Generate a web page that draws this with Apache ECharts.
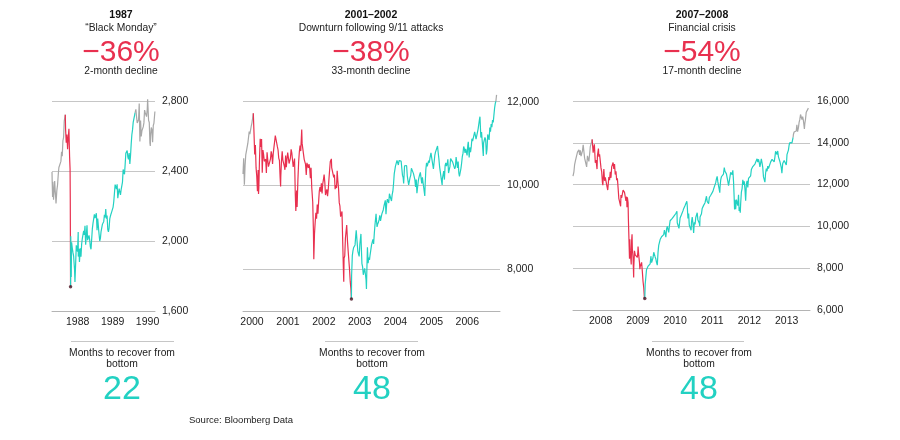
<!DOCTYPE html>
<html>
<head>
<meta charset="utf-8">
<title>Dow Jones: three crashes and their recoveries</title>
<script src="https://cdn.jsdelivr.net/npm/echarts@6.0.0/dist/echarts.min.js"></script>
<style>
  html, body { margin: 0; padding: 0; background: #fff; }
  #chart { width: 900px; height: 440px; }
</style>
</head>
<body>
<div id="chart"></div>
<script>
// Dow Jones Industrial Average, roughly weekly closes
const dow1987 = [
  ['1987-04-08', 2395], ['1987-04-10', 2339], ['1987-04-14', 2252], ['1987-04-17', 2338], ['1987-04-22', 2270],
  ['1987-04-24', 2236], ['1987-04-30', 2286], ['1987-05-06', 2342], ['1987-05-11', 2290], ['1987-05-15', 2263],
  ['1987-05-20', 2215], ['1987-05-29', 2291], ['1987-06-05', 2320], ['1987-06-12', 2377], ['1987-06-19', 2420],
  ['1987-06-26', 2417], ['1987-07-02', 2418], ['1987-07-10', 2455], ['1987-07-17', 2510], ['1987-07-24', 2485],
  ['1987-07-31', 2572], ['1987-08-07', 2592], ['1987-08-14', 2685], ['1987-08-21', 2709], ['1987-08-25', 2722],
  ['1987-08-28', 2639], ['1987-09-04', 2561], ['1987-09-11', 2608], ['1987-09-18', 2524], ['1987-09-22', 2568],
  ['1987-09-25', 2570], ['1987-10-02', 2641], ['1987-10-09', 2482], ['1987-10-14', 2412], ['1987-10-16', 2246],
  ['1987-10-19', 1739], ['1987-10-20', 1841], ['1987-10-21', 2027], ['1987-10-26', 1794], ['1987-10-30', 1993],
  ['1987-11-06', 1959], ['1987-11-13', 1935], ['1987-11-20', 1914], ['1987-11-30', 1834], ['1987-12-04', 1766],
  ['1987-12-11', 1867], ['1987-12-18', 1975], ['1987-12-31', 1939],
  ['1988-01-07', 2051], ['1988-01-08', 1911], ['1988-01-15', 1956], ['1988-01-20', 1880], ['1988-01-29', 1958],
  ['1988-02-05', 1910], ['1988-02-12', 1983], ['1988-02-19', 2014], ['1988-02-26', 2023], ['1988-03-04', 2058],
  ['1988-03-11', 2035], ['1988-03-18', 2087], ['1988-03-25', 1979], ['1988-04-01', 1988], ['1988-04-08', 2090],
  ['1988-04-14', 2005], ['1988-04-22', 2015], ['1988-04-29', 2032], ['1988-05-06', 2007], ['1988-05-13', 1967],
  ['1988-05-20', 1953], ['1988-05-27', 1956], ['1988-06-03', 2071], ['1988-06-10', 2102], ['1988-06-17', 2103],
  ['1988-06-24', 2152], ['1988-07-01', 2131], ['1988-07-08', 2120], ['1988-07-15', 2159], ['1988-07-22', 2061],
  ['1988-07-29', 2128], ['1988-08-05', 2119], ['1988-08-12', 2039], ['1988-08-19', 2000], ['1988-08-26', 2015],
  ['1988-09-02', 2054], ['1988-09-09', 2065], ['1988-09-16', 2095], ['1988-09-23', 2088], ['1988-09-30', 2112],
  ['1988-10-07', 2149], ['1988-10-14', 2134], ['1988-10-21', 2183], ['1988-10-28', 2128], ['1988-11-04', 2145],
  ['1988-11-11', 2067], ['1988-11-18', 2052], ['1988-11-25', 2074], ['1988-12-02', 2126], ['1988-12-09', 2143],
  ['1988-12-16', 2156], ['1988-12-23', 2168], ['1988-12-30', 2169],
  ['1989-01-06', 2194], ['1989-01-13', 2226], ['1989-01-20', 2236], ['1989-01-27', 2322], ['1989-02-03', 2331],
  ['1989-02-10', 2297], ['1989-02-17', 2324], ['1989-02-24', 2245], ['1989-03-03', 2274], ['1989-03-10', 2300],
  ['1989-03-17', 2292], ['1989-03-24', 2263], ['1989-03-31', 2293], ['1989-04-07', 2304], ['1989-04-14', 2337],
  ['1989-04-21', 2409], ['1989-04-28', 2419], ['1989-05-05', 2381], ['1989-05-12', 2439], ['1989-05-19', 2501],
  ['1989-05-26', 2493], ['1989-06-02', 2517], ['1989-06-09', 2480], ['1989-06-16', 2467], ['1989-06-23', 2503],
  ['1989-06-30', 2440], ['1989-07-07', 2487], ['1989-07-14', 2554], ['1989-07-21', 2607], ['1989-07-28', 2635],
  ['1989-08-04', 2678], ['1989-08-11', 2684], ['1989-08-18', 2687], ['1989-08-24', 2734], ['1989-09-01', 2752],
  ['1989-09-08', 2709], ['1989-09-15', 2674], ['1989-09-22', 2681], ['1989-09-29', 2693], ['1989-10-06', 2785],
  ['1989-10-09', 2791], ['1989-10-13', 2569], ['1989-10-20', 2689], ['1989-10-27', 2597], ['1989-11-03', 2629],
  ['1989-11-10', 2625], ['1989-11-17', 2652], ['1989-11-24', 2675], ['1989-12-01', 2748], ['1989-12-08', 2733],
  ['1989-12-15', 2739], ['1989-12-22', 2711], ['1989-12-29', 2753],
  ['1990-01-02', 2810], ['1990-01-05', 2773], ['1990-01-12', 2689], ['1990-01-19', 2677], ['1990-01-26', 2559],
  ['1990-01-30', 2543], ['1990-02-02', 2602], ['1990-02-09', 2649], ['1990-02-16', 2636], ['1990-02-23', 2564],
  ['1990-03-02', 2660], ['1990-03-09', 2674], ['1990-03-19', 2740]
]

const dow2000 = [
  ['1999-10-01', 10273], ['1999-10-08', 10649], ['1999-10-15', 10019], ['1999-10-22', 10470], ['1999-10-29', 10729],
  ['1999-11-05', 10704], ['1999-11-12', 10770], ['1999-11-19', 11003], ['1999-11-26', 10988], ['1999-12-03', 11286],
  ['1999-12-10', 11224], ['1999-12-17', 11257], ['1999-12-23', 11405], ['1999-12-31', 11497],
  ['2000-01-07', 11522], ['2000-01-14', 11723], ['2000-01-21', 11252], ['2000-01-28', 10739], ['2000-02-04', 10964],
  ['2000-02-11', 10425], ['2000-02-18', 10220], ['2000-02-25', 9862], ['2000-03-03', 10367], ['2000-03-07', 9796],
  ['2000-03-10', 9929], ['2000-03-17', 10630], ['2000-03-24', 11113], ['2000-03-31', 10922], ['2000-04-07', 11111],
  ['2000-04-14', 10306], ['2000-04-21', 10844], ['2000-04-28', 10734], ['2000-05-05', 10577], ['2000-05-12', 10610],
  ['2000-05-19', 10627], ['2000-05-26', 10299], ['2000-06-02', 10794], ['2000-06-09', 10614], ['2000-06-16', 10450],
  ['2000-06-23', 10405], ['2000-06-30', 10448], ['2000-07-07', 10636], ['2000-07-14', 10813], ['2000-07-21', 10733],
  ['2000-07-28', 10512], ['2000-08-04', 10767], ['2000-08-11', 10908], ['2000-08-18', 11046], ['2000-08-25', 11193],
  ['2000-09-01', 11238], ['2000-09-08', 11220], ['2000-09-15', 10927], ['2000-09-22', 10847], ['2000-09-29', 10651],
  ['2000-10-06', 10596], ['2000-10-13', 10192], ['2000-10-18', 9975], ['2000-10-20', 10226], ['2000-10-27', 10590],
  ['2000-11-03', 10817], ['2000-11-10', 10602], ['2000-11-17', 10629], ['2000-11-24', 10470], ['2000-12-01', 10373],
  ['2000-12-08', 10713], ['2000-12-15', 10434], ['2000-12-22', 10635], ['2000-12-29', 10787],
  ['2001-01-05', 10662], ['2001-01-12', 10525], ['2001-01-19', 10587], ['2001-01-26', 10659], ['2001-02-02', 10864],
  ['2001-02-09', 10781], ['2001-02-16', 10799], ['2001-02-23', 10441], ['2001-03-02', 10466], ['2001-03-09', 10644],
  ['2001-03-16', 9823], ['2001-03-22', 9389], ['2001-03-30', 9879], ['2001-04-04', 9485], ['2001-04-12', 10127],
  ['2001-04-20', 10579], ['2001-04-27', 10810], ['2001-05-04', 10951], ['2001-05-11', 10821], ['2001-05-21', 11337],
  ['2001-05-25', 11005], ['2001-06-01', 10990], ['2001-06-08', 10977], ['2001-06-15', 10623], ['2001-06-22', 10604],
  ['2001-06-29', 10502], ['2001-07-06', 10252], ['2001-07-13', 10539], ['2001-07-20', 10577], ['2001-07-27', 10417],
  ['2001-08-03', 10512], ['2001-08-10', 10416], ['2001-08-17', 10171], ['2001-08-24', 10423], ['2001-08-31', 9950],
  ['2001-09-10', 9605], ['2001-09-17', 8920], ['2001-09-21', 8236], ['2001-09-28', 8848], ['2001-10-05', 9120],
  ['2001-10-12', 9344], ['2001-10-19', 9205], ['2001-10-26', 9545], ['2001-11-02', 9323], ['2001-11-09', 9608],
  ['2001-11-16', 9866], ['2001-11-23', 9959], ['2001-11-30', 9851], ['2001-12-07', 10049], ['2001-12-14', 9811],
  ['2001-12-21', 10036], ['2001-12-28', 10137],
  ['2002-01-04', 10260], ['2002-01-11', 10075], ['2002-01-18', 9772], ['2002-01-25', 9841], ['2002-02-01', 9907],
  ['2002-02-08', 9744], ['2002-02-15', 9904], ['2002-02-22', 10145], ['2002-03-01', 10369], ['2002-03-08', 10572],
  ['2002-03-19', 10635], ['2002-03-22', 10427], ['2002-03-28', 10404], ['2002-04-05', 10271], ['2002-04-12', 10190],
  ['2002-04-19', 10257], ['2002-04-26', 9910], ['2002-05-03', 10006], ['2002-05-10', 9939], ['2002-05-17', 10353],
  ['2002-05-24', 10105], ['2002-05-31', 9925], ['2002-06-07', 9589], ['2002-06-14', 9504], ['2002-06-21', 9253],
  ['2002-06-28', 9243], ['2002-07-05', 9379], ['2002-07-12', 8684], ['2002-07-19', 8019], ['2002-07-23', 7702],
  ['2002-07-26', 8264], ['2002-08-02', 8313], ['2002-08-09', 8745], ['2002-08-16', 8778], ['2002-08-22', 9053],
  ['2002-08-30', 8663], ['2002-09-06', 8427], ['2002-09-13', 8380], ['2002-09-20', 7986], ['2002-09-27', 7701],
  ['2002-10-04', 7528], ['2002-10-09', 7286], ['2002-10-11', 7850], ['2002-10-18', 8322], ['2002-10-25', 8444],
  ['2002-11-01', 8518], ['2002-11-08', 8538], ['2002-11-15', 8579], ['2002-11-22', 8805], ['2002-11-27', 8931],
  ['2002-12-06', 8645], ['2002-12-13', 8433], ['2002-12-20', 8364], ['2002-12-27', 8304],
  ['2003-01-03', 8601], ['2003-01-14', 8842], ['2003-01-17', 8587], ['2003-01-24', 8131], ['2003-01-31', 8054],
  ['2003-02-07', 7865], ['2003-02-14', 7909], ['2003-02-21', 8018], ['2003-02-28', 7891], ['2003-03-07', 7741],
  ['2003-03-11', 7524], ['2003-03-14', 7859], ['2003-03-21', 8522], ['2003-03-28', 8145], ['2003-04-04', 8277],
  ['2003-04-11', 8221], ['2003-04-17', 8337], ['2003-04-25', 8306], ['2003-05-02', 8582], ['2003-05-09', 8604],
  ['2003-05-16', 8713], ['2003-05-23', 8601], ['2003-05-30', 8850], ['2003-06-06', 9062], ['2003-06-17', 9323],
  ['2003-06-20', 9200], ['2003-06-27', 9011], ['2003-07-03', 9070], ['2003-07-11', 9119], ['2003-07-18', 9188],
  ['2003-07-25', 9284], ['2003-08-01', 9153], ['2003-08-08', 9191], ['2003-08-15', 9321], ['2003-08-22', 9348],
  ['2003-08-29', 9415], ['2003-09-05', 9503], ['2003-09-12', 9471], ['2003-09-19', 9644], ['2003-09-26', 9313],
  ['2003-10-03', 9572], ['2003-10-10', 9674], ['2003-10-17', 9721], ['2003-10-24', 9582], ['2003-10-31', 9801],
  ['2003-11-07', 9809], ['2003-11-14', 9768], ['2003-11-21', 9629], ['2003-11-28', 9782], ['2003-12-05', 9862],
  ['2003-12-12', 10042], ['2003-12-19', 10278], ['2003-12-26', 10305], ['2003-12-31', 10454],
  ['2004-01-09', 10458], ['2004-01-16', 10600], ['2004-01-23', 10568], ['2004-01-30', 10488], ['2004-02-06', 10593],
  ['2004-02-13', 10627], ['2004-02-20', 10620], ['2004-02-27', 10584], ['2004-03-05', 10595], ['2004-03-12', 10240],
  ['2004-03-19', 10186], ['2004-03-24', 10048], ['2004-04-02', 10470], ['2004-04-09', 10442], ['2004-04-16', 10452],
  ['2004-04-23', 10472], ['2004-04-30', 10225], ['2004-05-07', 10117], ['2004-05-14', 10012], ['2004-05-21', 9966],
  ['2004-05-28', 10188], ['2004-06-04', 10242], ['2004-06-11', 10410], ['2004-06-18', 10416], ['2004-06-25', 10371],
  ['2004-07-02', 10282], ['2004-07-09', 10213], ['2004-07-16', 10139], ['2004-07-23', 9962], ['2004-07-30', 10140],
  ['2004-08-06', 9815], ['2004-08-13', 9825], ['2004-08-20', 10110], ['2004-08-27', 10195], ['2004-09-03', 10260],
  ['2004-09-10', 10314], ['2004-09-17', 10284], ['2004-09-24', 10047], ['2004-10-01', 10192], ['2004-10-08', 10055],
  ['2004-10-15', 9933], ['2004-10-25', 9749], ['2004-10-29', 10027], ['2004-11-05', 10387], ['2004-11-12', 10540],
  ['2004-11-19', 10456], ['2004-11-26', 10522], ['2004-12-03', 10592], ['2004-12-10', 10543], ['2004-12-17', 10661],
  ['2004-12-27', 10777], ['2004-12-31', 10783],
  ['2005-01-07', 10603], ['2005-01-14', 10558], ['2005-01-21', 10393], ['2005-01-28', 10427], ['2005-02-04', 10716],
  ['2005-02-11', 10796], ['2005-02-18', 10785], ['2005-02-25', 10766], ['2005-03-04', 10941], ['2005-03-11', 10774],
  ['2005-03-18', 10630], ['2005-03-25', 10442], ['2005-04-01', 10404], ['2005-04-08', 10461], ['2005-04-15', 10087],
  ['2005-04-20', 10012], ['2005-04-22', 10157], ['2005-04-29', 10193], ['2005-05-06', 10345], ['2005-05-13', 10140],
  ['2005-05-20', 10471], ['2005-05-27', 10542], ['2005-06-03', 10460], ['2005-06-10', 10512], ['2005-06-17', 10623],
  ['2005-06-24', 10297], ['2005-07-01', 10303], ['2005-07-08', 10449], ['2005-07-15', 10640], ['2005-07-22', 10651],
  ['2005-07-29', 10641], ['2005-08-05', 10558], ['2005-08-12', 10600], ['2005-08-19', 10559], ['2005-08-26', 10397],
  ['2005-09-02', 10447], ['2005-09-09', 10678], ['2005-09-16', 10641], ['2005-09-23', 10419], ['2005-09-30', 10569],
  ['2005-10-07', 10292], ['2005-10-13', 10216], ['2005-10-21', 10215], ['2005-10-28', 10402], ['2005-11-04', 10530],
  ['2005-11-11', 10686], ['2005-11-18', 10766], ['2005-11-25', 10931], ['2005-12-02', 10877], ['2005-12-09', 10778],
  ['2005-12-16', 10876], ['2005-12-23', 10883], ['2005-12-30', 10718],
  ['2006-01-06', 10959], ['2006-01-11', 11043], ['2006-01-20', 10667], ['2006-01-27', 10908], ['2006-02-03', 10793],
  ['2006-02-10', 10919], ['2006-02-17', 11116], ['2006-02-24', 11061], ['2006-03-03', 11022], ['2006-03-10', 11076],
  ['2006-03-17', 11279], ['2006-03-24', 11280], ['2006-03-31', 11109], ['2006-04-07', 11120], ['2006-04-13', 11137],
  ['2006-04-21', 11347], ['2006-04-28', 11367], ['2006-05-05', 11578], ['2006-05-10', 11642], ['2006-05-19', 11144],
  ['2006-05-26', 11278], ['2006-06-02', 11247], ['2006-06-13', 10706], ['2006-06-16', 11014], ['2006-06-23', 10989],
  ['2006-06-30', 11150], ['2006-07-07', 11090], ['2006-07-14', 10739], ['2006-07-21', 10868], ['2006-07-28', 11219],
  ['2006-08-04', 11240], ['2006-08-11', 11088], ['2006-08-18', 11381], ['2006-08-25', 11284], ['2006-09-01', 11464],
  ['2006-09-08', 11392], ['2006-09-15', 11560], ['2006-09-22', 11508], ['2006-09-29', 11679], ['2006-10-06', 11850],
  ['2006-10-13', 11960], ['2006-10-19', 12011], ['2006-10-26', 12163]
]

const dow2007 = [
  ['2007-04-04', 12400], ['2007-04-13', 12612], ['2007-04-20', 12961], ['2007-04-27', 13120], ['2007-05-04', 13264],
  ['2007-05-11', 13326], ['2007-05-18', 13556], ['2007-05-25', 13507], ['2007-06-01', 13668], ['2007-06-08', 13424],
  ['2007-06-15', 13639], ['2007-06-22', 13360], ['2007-06-29', 13408], ['2007-07-06', 13611], ['2007-07-13', 13907],
  ['2007-07-19', 14000], ['2007-07-27', 13265], ['2007-08-03', 13181], ['2007-08-10', 13239], ['2007-08-16', 12845],
  ['2007-08-24', 13379], ['2007-08-31', 13358], ['2007-09-07', 13113], ['2007-09-14', 13442], ['2007-09-21', 13820],
  ['2007-09-28', 13896], ['2007-10-05', 14066], ['2007-10-09', 14165], ['2007-10-12', 14093], ['2007-10-19', 13522],
  ['2007-10-26', 13806], ['2007-10-31', 13930], ['2007-11-09', 13043], ['2007-11-16', 13176], ['2007-11-26', 12743],
  ['2007-11-30', 13372], ['2007-12-10', 13727], ['2007-12-14', 13339], ['2007-12-21', 13450], ['2007-12-28', 13366],
  ['2008-01-04', 12800], ['2008-01-11', 12606], ['2008-01-18', 12099], ['2008-01-22', 11971], ['2008-01-25', 12207],
  ['2008-02-01', 12743], ['2008-02-08', 12183], ['2008-02-15', 12348], ['2008-02-22', 12381], ['2008-02-29', 12266],
  ['2008-03-10', 11740], ['2008-03-14', 11951], ['2008-03-21', 12361], ['2008-03-28', 12216], ['2008-04-04', 12609],
  ['2008-04-11', 12325], ['2008-04-18', 12849], ['2008-04-25', 12891], ['2008-05-02', 13058], ['2008-05-09', 12745],
  ['2008-05-16', 12986], ['2008-05-23', 12480], ['2008-05-30', 12638], ['2008-06-06', 12209], ['2008-06-13', 12307],
  ['2008-06-20', 11842], ['2008-06-27', 11346], ['2008-07-03', 11288], ['2008-07-15', 10962], ['2008-07-18', 11496],
  ['2008-07-25', 11370], ['2008-08-01', 11326], ['2008-08-08', 11734], ['2008-08-15', 11659], ['2008-08-22', 11628],
  ['2008-08-29', 11543], ['2008-09-05', 11220], ['2008-09-12', 11421], ['2008-09-15', 10917], ['2008-09-19', 11388],
  ['2008-09-26', 11143], ['2008-09-29', 10365], ['2008-10-03', 10325], ['2008-10-10', 8451], ['2008-10-13', 9387],
  ['2008-10-17', 8852], ['2008-10-27', 8175], ['2008-10-31', 9325], ['2008-11-04', 9625], ['2008-11-07', 8943],
  ['2008-11-14', 8497], ['2008-11-20', 7552], ['2008-11-21', 8046], ['2008-11-28', 8829], ['2008-12-05', 8635],
  ['2008-12-12', 8629], ['2008-12-19', 8579], ['2008-12-26', 8515], ['2008-12-31', 8776],
  ['2009-01-02', 9034], ['2009-01-09', 8599], ['2009-01-16', 8281], ['2009-01-20', 7949], ['2009-01-23', 8077],
  ['2009-01-30', 8001], ['2009-02-06', 8280], ['2009-02-13', 7850], ['2009-02-20', 7366], ['2009-02-27', 7063],
  ['2009-03-05', 6594], ['2009-03-09', 6547], ['2009-03-13', 7224], ['2009-03-20', 7279], ['2009-03-26', 7924],
  ['2009-04-03', 8018], ['2009-04-09', 8083], ['2009-04-17', 8131], ['2009-04-24', 8076], ['2009-05-01', 8212],
  ['2009-05-08', 8575], ['2009-05-15', 8268], ['2009-05-22', 8277], ['2009-05-29', 8500], ['2009-06-05', 8763],
  ['2009-06-12', 8799], ['2009-06-19', 8539], ['2009-06-26', 8438], ['2009-07-02', 8280], ['2009-07-10', 8146],
  ['2009-07-17', 8743], ['2009-07-24', 9093], ['2009-07-31', 9171], ['2009-08-07', 9370], ['2009-08-14', 9321],
  ['2009-08-21', 9505], ['2009-08-28', 9544], ['2009-09-04', 9441], ['2009-09-11', 9605], ['2009-09-18', 9820],
  ['2009-09-25', 9665], ['2009-10-02', 9487], ['2009-10-09', 9865], ['2009-10-16', 9995], ['2009-10-23', 9972],
  ['2009-10-30', 9712], ['2009-11-06', 10023], ['2009-11-13', 10270], ['2009-11-20', 10318], ['2009-11-27', 10309],
  ['2009-12-04', 10388], ['2009-12-11', 10471], ['2009-12-18', 10328], ['2009-12-24', 10520], ['2009-12-31', 10428],
  ['2010-01-08', 10618], ['2010-01-19', 10725], ['2010-01-22', 10172], ['2010-01-29', 10067], ['2010-02-08', 9908],
  ['2010-02-12', 10099], ['2010-02-19', 10402], ['2010-02-26', 10325], ['2010-03-05', 10566], ['2010-03-12', 10624],
  ['2010-03-19', 10742], ['2010-03-26', 10850], ['2010-04-01', 10927], ['2010-04-09', 10997], ['2010-04-16', 11019],
  ['2010-04-26', 11205], ['2010-04-30', 11009], ['2010-05-07', 10380], ['2010-05-14', 10620], ['2010-05-20', 10068],
  ['2010-05-28', 10137], ['2010-06-07', 9816], ['2010-06-11', 10211], ['2010-06-18', 10450], ['2010-06-25', 10144],
  ['2010-07-02', 9686], ['2010-07-09', 10198], ['2010-07-16', 10097], ['2010-07-23', 10424], ['2010-07-30', 10466],
  ['2010-08-06', 10654], ['2010-08-13', 10303], ['2010-08-20', 10213], ['2010-08-27', 10150], ['2010-08-31', 10014],
  ['2010-09-03', 10448], ['2010-09-10', 10462], ['2010-09-17', 10607], ['2010-09-24', 10860], ['2010-10-01', 10829],
  ['2010-10-08', 11006], ['2010-10-15', 11062], ['2010-10-22', 11133], ['2010-10-29', 11118], ['2010-11-05', 11444],
  ['2010-11-12', 11192], ['2010-11-19', 11203], ['2010-11-26', 11092], ['2010-12-03', 11382], ['2010-12-10', 11410],
  ['2010-12-17', 11491], ['2010-12-23', 11573], ['2010-12-31', 11577],
  ['2011-01-07', 11674], ['2011-01-14', 11787], ['2011-01-21', 11871], ['2011-01-28', 11823], ['2011-02-04', 12092],
  ['2011-02-11', 12273], ['2011-02-18', 12391], ['2011-02-25', 12130], ['2011-03-04', 12169], ['2011-03-11', 12044],
  ['2011-03-16', 11613], ['2011-03-18', 11858], ['2011-03-25', 12221], ['2011-04-01', 12376], ['2011-04-08', 12380],
  ['2011-04-15', 12342], ['2011-04-21', 12505], ['2011-04-29', 12811], ['2011-05-06', 12638], ['2011-05-13', 12596],
  ['2011-05-20', 12512], ['2011-05-27', 12441], ['2011-06-03', 12151], ['2011-06-10', 11952], ['2011-06-17', 12004],
  ['2011-06-24', 11934], ['2011-07-01', 12582], ['2011-07-08', 12657], ['2011-07-15', 12479], ['2011-07-22', 12681],
  ['2011-07-29', 12143], ['2011-08-04', 11383], ['2011-08-08', 10810], ['2011-08-12', 11269], ['2011-08-19', 10817],
  ['2011-08-26', 11285], ['2011-09-02', 11240], ['2011-09-09', 10992], ['2011-09-16', 11509], ['2011-09-22', 10733],
  ['2011-09-30', 10913], ['2011-10-03', 10655], ['2011-10-07', 11103], ['2011-10-14', 11644], ['2011-10-21', 11808],
  ['2011-10-28', 12231], ['2011-11-04', 11983], ['2011-11-11', 12153], ['2011-11-18', 11796], ['2011-11-25', 11231],
  ['2011-12-02', 12019], ['2011-12-09', 12184], ['2011-12-16', 11866], ['2011-12-23', 12294], ['2011-12-30', 12218],
  ['2012-01-06', 12360], ['2012-01-13', 12422], ['2012-01-20', 12720], ['2012-01-27', 12660], ['2012-02-03', 12862],
  ['2012-02-10', 12801], ['2012-02-17', 12950], ['2012-02-24', 12983], ['2012-03-02', 12977], ['2012-03-09', 12922],
  ['2012-03-16', 13233], ['2012-03-23', 13081], ['2012-03-30', 13212], ['2012-04-06', 13060], ['2012-04-13', 12850],
  ['2012-04-20', 13029], ['2012-04-27', 13228], ['2012-05-04', 13038], ['2012-05-11', 12821], ['2012-05-18', 12369],
  ['2012-05-25', 12455], ['2012-06-01', 12119], ['2012-06-08', 12554], ['2012-06-15', 12767], ['2012-06-22', 12640],
  ['2012-06-29', 12880], ['2012-07-06', 12772], ['2012-07-13', 12777], ['2012-07-20', 12822], ['2012-07-27', 13075],
  ['2012-08-03', 13096], ['2012-08-10', 13207], ['2012-08-17', 13275], ['2012-08-24', 13157], ['2012-08-31', 13090],
  ['2012-09-07', 13306], ['2012-09-14', 13593], ['2012-09-21', 13579], ['2012-09-28', 13437], ['2012-10-05', 13610],
  ['2012-10-12', 13328], ['2012-10-19', 13343], ['2012-10-26', 13107], ['2012-11-02', 13093], ['2012-11-09', 12815],
  ['2012-11-15', 12542], ['2012-11-23', 13010], ['2012-11-30', 13025], ['2012-12-07', 13155], ['2012-12-14', 13135],
  ['2012-12-21', 13190], ['2012-12-28', 12938], ['2012-12-31', 13104],
  ['2013-01-04', 13435], ['2013-01-11', 13488], ['2013-01-18', 13650], ['2013-01-25', 13896], ['2013-02-01', 14010],
  ['2013-02-08', 13993], ['2013-02-15', 13982], ['2013-02-22', 14001], ['2013-03-01', 14090], ['2013-03-05', 14254],
  ['2013-03-08', 14397], ['2013-03-15', 14515], ['2013-03-22', 14512], ['2013-03-28', 14579], ['2013-04-05', 14565],
  ['2013-04-11', 14865], ['2013-04-18', 14537], ['2013-04-26', 14713], ['2013-05-03', 14974], ['2013-05-10', 15118],
  ['2013-05-17', 15354], ['2013-05-24', 15303], ['2013-05-31', 15116], ['2013-06-07', 15248], ['2013-06-14', 15070],
  ['2013-06-24', 14660], ['2013-06-28', 14910], ['2013-07-05', 15136], ['2013-07-12', 15464], ['2013-07-19', 15544],
  ['2013-07-26', 15559], ['2013-08-02', 15659]
]

// peak, bottom, back to the old peak
const phases1987 = ['1987-08-25', '1987-10-19', '1989-08-24']
const phases2000 = ['2000-01-14', '2002-10-09', '2006-10-19']
const phases2007 = ['2007-10-09', '2009-03-09', '2013-03-05']

const yTicks1987 = [1600, 2000, 2400, 2800]
const yTicks2000 = [8000, 10000, 12000]
const yTicks2007 = [6000, 8000, 10000, 12000, 14000, 16000]

const years1987 = [1988, 1989, 1990]
const years2000 = [2000, 2001, 2002, 2003, 2004, 2005, 2006]
const years2007 = [2008, 2009, 2010, 2011, 2012, 2013]

const panelYears = ['1987', '2001–2002', '2007–2008']
const panelEvents = ['“Black Monday”', 'Downturn following 9/11 attacks', 'Financial crisis']
const declinePct = ['−36%', '−38%', '−54%']
const declineMonths = ['2-month decline', '33-month decline', '17-month decline']
const recoverMonths = ['22', '48', '48']

const FONT = '"Liberation Sans", Arial, Helvetica, sans-serif'
const RED = '#e8304f'
const TEAL = '#22d1c2'
const GRAY = '#a8a8a8'
const DOT = '#4a1322'
const RULE = '#c6c6c6'
const INK = '#222'

// 'YYYY-MM-DD' -> local timestamp (the x axes are plain value axes in ms)
function ts (s) {
  const [y, m, d] = s.split('-').map(Number)
  return new Date(y, m - 1, d).getTime()
}

// one panel = one grid; the line is cut into before / decline / recovery / after
function panelSeries (data, phases, i) {
  const [peak, bottom, recovered] = phases
  const seg = (from, to) => data
    .filter(p => (!from || p[0] >= from) && (!to || p[0] <= to))
    .map(p => [ts(p[0]), p[1]])
  const line = (d, color) => ({
    type: 'line',
    xAxisIndex: i,
    yAxisIndex: i,
    data: d,
    symbol: 'none',
    clip: false,
    silent: true,
    lineStyle: { color, width: 1.2 }
  })
  const low = data.find(p => p[0] === bottom)
  return [
    line(seg(null, peak), GRAY),
    line(seg(peak, bottom), RED),
    line(seg(bottom, recovered), TEAL),
    line(seg(recovered, null), GRAY),
    {
      type: 'scatter',
      xAxisIndex: i,
      yAxisIndex: i,
      data: [[ts(low[0]), low[1]]],
      symbolSize: 3.5,
      silent: true,
      z: 5,
      itemStyle: { color: DOT }
    }
  ]
}

function xAxis (i, min, max, years) {
  return {
    type: 'value',
    gridIndex: i,
    min: ts(min),
    max: ts(max),
    axisLine: { onZero: false, lineStyle: { color: '#b4b4b4', width: 1 } },
    axisTick: { show: false },
    splitLine: { show: false },
    axisLabel: {
      customValues: years.map(y => new Date(y, 0, 1).getTime()),
      formatter: v => String(new Date(v).getFullYear()),
      color: INK,
      fontFamily: FONT,
      fontSize: 10.5,
      margin: 6
    }
  }
}

function yAxis (i, min, max, ticks) {
  return {
    type: 'value',
    gridIndex: i,
    position: 'right',
    min,
    max,
    axisLine: { show: false },
    axisTick: { show: false, customValues: ticks },
    axisLabel: {
      customValues: ticks,
      formatter: v => v.toLocaleString('en-US'),
      color: INK,
      fontFamily: FONT,
      fontSize: 10.5,
      margin: 7
    },
    splitLine: { lineStyle: { color: RULE, width: 1 } }
  }
}

function text (x, y, str, size, color, weight) {
  return {
    type: 'text',
    x,
    y,
    silent: true,
    style: {
      text: str,
      fill: color,
      font: (weight || 'normal') + ' ' + size + 'px ' + FONT,
      textAlign: 'center',
      textVerticalAlign: 'middle'
    }
  }
}

const headX = [121, 371, 702]
const footX = [122, 372, 699]
const ruleX = [[71, 174], [325, 418], [652, 744]]

const graphics = []
for (let k = 0; k < 3; k++) {
  graphics.push(text(headX[k], 15, panelYears[k], 10.5, '#111', 'bold'))
  graphics.push(text(headX[k], 28, panelEvents[k], 10.3, INK))
  graphics.push(text(headX[k], 52.5, declinePct[k], 30, RED))
  graphics.push(text(headX[k], 71, declineMonths[k], 10.3, INK))
  graphics.push({
    type: 'line',
    silent: true,
    shape: { x1: ruleX[k][0], y1: 341.5, x2: ruleX[k][1], y2: 341.5 },
    style: { stroke: RULE, lineWidth: 1 }
  })
  graphics.push(text(footX[k], 353, 'Months to recover from', 10.3, INK))
  graphics.push(text(footX[k], 364.5, 'bottom', 10.3, INK))
  graphics.push(text(footX[k], 389.5, recoverMonths[k], 34, TEAL))
}
graphics.push({
  type: 'text',
  x: 189,
  y: 420,
  silent: true,
  style: { text: 'Source: Bloomberg Data', fill: INK, font: '9.5px ' + FONT, textVerticalAlign: 'middle' }
})

const chart = echarts.init(document.getElementById('chart'))
chart.setOption({
  animation: false,
  backgroundColor: '#fff',
  textStyle: { fontFamily: FONT },
  grid: [
    { left: 52, top: 83.5, width: 103, height: 227.5 },
    { left: 243, top: 85, width: 257, height: 226 },
    { left: 573, top: 101, width: 237, height: 209 }
  ],
  xAxis: [
    xAxis(0, '1987-04-08', '1990-03-20', years1987),
    xAxis(1, '1999-10-01', '2006-11-30', years2000),
    xAxis(2, '2007-04-04', '2013-08-18', years2007)
  ],
  yAxis: [
    yAxis(0, 1600, 2900, yTicks1987),
    yAxis(1, 7000, 12400, yTicks2000),
    yAxis(2, 6000, 16000, yTicks2007)
  ],
  series: [].concat(
    panelSeries(dow1987, phases1987, 0),
    panelSeries(dow2000, phases2000, 1),
    panelSeries(dow2007, phases2007, 2)
  ),
  graphic: graphics
})
</script>
</body>
</html>
